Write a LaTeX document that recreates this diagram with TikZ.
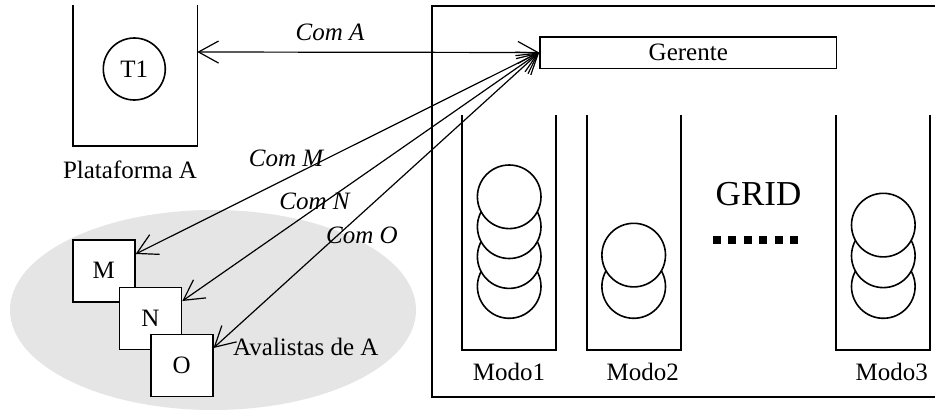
\documentclass[tikz,border=0pt]{standalone}
\usepackage{fontspec}
\setmainfont{Liberation Serif}
\usetikzlibrary{arrows.meta,calc}
\begin{document}
\begin{tikzpicture}[x=1pt,y=-1pt,
  txt/.style={inner sep=0pt,font=\fontsize{25}{30}\selectfont},
  ltxt/.style={inner sep=0pt,font=\fontsize{25}{30}\selectfont\itshape},
  frame/.style={line width=1.6pt},
  ibox/.style={draw,line width=1.6pt,fill=white,minimum width=62pt,minimum height=62pt,inner sep=0pt,font=\fontsize{25}{30}\selectfont},
  tok/.style={draw,line width=1.6pt,fill=white,circle,minimum size=63.6pt,inner sep=0pt},
  arr/.style={line width=1.2pt,{Straight Barb[length=20pt,width=22pt]}-{Straight Barb[length=20pt,width=22pt]}}
]
\useasboundingbox (0,0) rectangle (935,410);
% grey ellipse
\fill[black!10] (213,310) ellipse [x radius=203, y radius=100];
% Plataforma A
\draw[frame] (72.7,5) -- (72.7,145.7) -- (197.3,145.7) -- (197.3,5);
\node[draw,circle,line width=1.6pt,minimum size=62pt,inner sep=0pt,font=\fontsize{25}{30}\selectfont] (t1) at (134.3,69) {T1};
\node[txt] (plat) at (130,170) {Plataforma A};
\coordinate (pa) at (197.3,52);
% GRID frame
\draw[frame] (935,5.7) -- (431.7,5.7) -- (431.7,396.7) -- (935,396.7);
\node[draw,line width=1.6pt,minimum width=296.7pt,minimum height=31.6pt,inner sep=0pt,txt] (ger) at (688.3,52.5) {Gerente};
\coordinate (g) at (ger.west);
% columns
\draw[frame] (461.7,115) -- (461.7,350) -- (556,350) -- (556,115);
\draw[frame] (586.7,115) -- (586.7,350) -- (681,350) -- (681,115);
\draw[frame] (836,115) -- (836,350) -- (930,350) -- (930,115);
% tokens Modo1
\node[tok] (a4) at (509.2,286.5) {};
\node[tok] (a3) at (509.2,256.6) {};
\node[tok] (a2) at (509.2,226.7) {};
\node[tok] (a1) at (509.2,196.8) {};
% Modo2
\node[tok] (b2) at (633.7,286.5) {};
\node[tok] (b1) at (633.7,255.1) {};
% Modo3
\node[tok] (c3) at (883.3,286.5) {};
\node[tok] (c2) at (883.3,255.8) {};
\node[tok] (c1) at (883.3,225.1) {};
\node[txt] (m1) at (509,371.7) {Modo1};
\node[txt] (m2) at (642.7,371.7) {Modo2};
\node[txt] (m3) at (891.7,371.7) {Modo3};
\node[inner sep=0pt,font=\fontsize{35}{40}\selectfont] (grid) at (758.5,194) {GRID};
\coordinate (d1) at (712.7,240);
\coordinate (d2) at (798.3,240);
\draw[line width=8pt,dash pattern=on 8pt off 7.5pt] (d1) -- (d2);
% avalistas
\node[ibox] (M) at (103.8,270.8) {M};
\node[ibox] (N) at (150.5,318.3) {N};
\node[ibox] (O) at (181.7,365.3) {O};
\node[txt,anchor=west] (aval) at (233,346.5) {Avalistas de A};
% connectors
\draw[arr] (pa) -- (g);
\draw[arr] ($(M.north east)+(0,15)$) -- (g);
\draw[arr] ($(N.north east)+(0,14.5)$) -- (g);
\draw[arr] ($(O.north east)+(0,14.5)$) -- (g);
\node[ltxt] (lA) at (330,32) {Com A};
\node[ltxt] (lM) at (286,158) {Com M};
\node[ltxt] (lN) at (314.5,201) {Com N};
\node[ltxt] (lO) at (362,235) {Com O};
\end{tikzpicture}
\end{document}
